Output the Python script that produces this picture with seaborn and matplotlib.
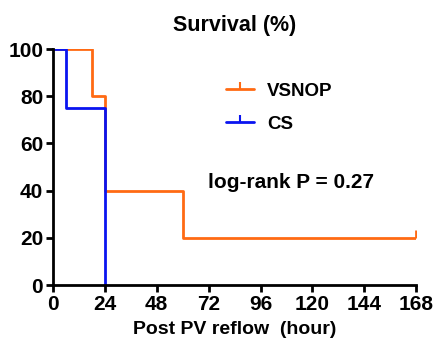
import pandas as pd
import seaborn as sns
import matplotlib.pyplot as plt
from matplotlib.markers import TICKUP
from matplotlib.lines import Line2D

# step vertices (time in hours, survival %)
vsnop_time = [0, 18, 24, 60, 168]
vsnop_surv = [100, 80, 40, 20, 20]
cs_time = [0, 6, 24]
cs_surv = [100, 75, 0]
groups = ['VSNOP', 'CS']
colors = {'VSNOP': '#FF6A13', 'CS': '#0A14F0'}
xticks = [0, 24, 48, 72, 96, 120, 144, 168]
yticks = [0, 20, 40, 60, 80, 100]

df = pd.concat([
    pd.DataFrame({'time': vsnop_time, 'surv': vsnop_surv, 'group': 'VSNOP'}),
    pd.DataFrame({'time': cs_time, 'surv': cs_surv, 'group': 'CS'}),
])

sns.set_style('ticks')
plt.rcParams['font.family'] = ['Liberation Sans', 'DejaVu Sans']
plt.rcParams['font.weight'] = 'bold'
plt.rcParams['text.color'] = 'black'
plt.rcParams['axes.labelcolor'] = 'black'
plt.rcParams['xtick.color'] = 'black'
plt.rcParams['ytick.color'] = 'black'

fig = plt.figure(figsize=(4.34, 3.48), dpi=100)
ax = fig.add_axes([0.122, 0.181, 0.837, 0.678])

sns.lineplot(data=df, x='time', y='surv', hue='group', hue_order=groups,
             palette=colors, estimator=None, sort=False, drawstyle='steps-post',
             linewidth=2, legend=False, ax=ax)

# censored mark at the end of VSNOP
last = df[df.group == 'VSNOP'].iloc[[-1]]
ax.plot(last.time, last.surv, marker=TICKUP, color=colors['VSNOP'],
        markersize=6, markeredgewidth=2, linestyle='none')

handles = [Line2D([], [], color=colors[g], lw=2, marker=TICKUP, markersize=5,
                  markeredgewidth=1.5) for g in groups]
ax.legend(handles, groups, loc='upper left', bbox_to_anchor=(0.43, 0.93),
          frameon=False, fontsize=13.5, handlelength=1.5, labelspacing=0.85,
          handletextpad=0.7)

ax.text(0.427, 0.41, 'log-rank P = 0.27', transform=ax.transAxes,
        fontsize=15, fontweight='bold')

ax.set_xlim(0, 168)
ax.set_ylim(0, 100)
ax.set_xticks(xticks)
ax.set_yticks(yticks)
ax.set_xlabel('Post PV reflow  (hour)', fontsize=14, fontweight='bold',
              labelpad=5)
ax.set_ylabel('')
ax.set_title('Survival (%)', fontsize=15.5, fontweight='bold', pad=13)
ax.tick_params(labelsize=15, width=2, length=5, pad=2)
for side in ['left', 'bottom']:
    ax.spines[side].set_linewidth(2)
    ax.spines[side].set_color('black')
sns.despine(ax=ax)
for lbl in ax.get_xticklabels() + ax.get_yticklabels():
    lbl.set_fontweight('bold')

fig.savefig('out.png', dpi=100)
